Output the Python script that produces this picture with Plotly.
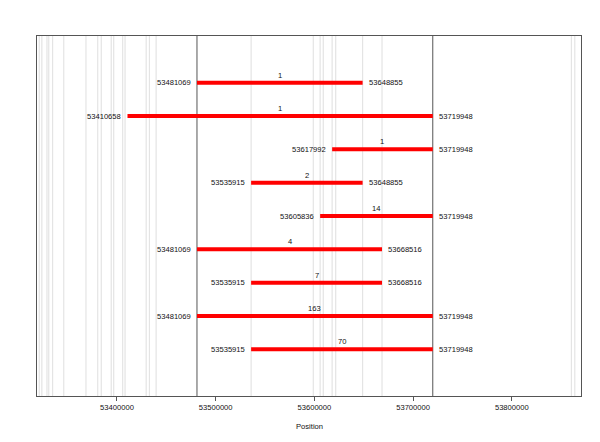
import plotly.graph_objects as go

# Data
starts = [53481069, 53410658, 53617992, 53535915, 53605836, 53481069, 53535915, 53481069, 53535915]
ends = [53648855, 53719948, 53719948, 53648855, 53719948, 53668516, 53668516, 53719948, 53719948]
counts = [1, 1, 1, 2, 14, 4, 7, 163, 70]
rows = [1, 2, 3, 4, 5, 6, 7, 8, 9]

# Background marker positions (light gray vertical lines)
marker_positions = [53321300, 53323900, 53329100, 53330900, 53334800, 53346100, 53368600,
                    53380500, 53384100, 53394200, 53396700, 53405800, 53408200, 53429600,
                    53432900, 53439700, 53535915, 53598900, 53605836, 53609000, 53617992,
                    53621600, 53648855, 53668516, 53860400, 53863800]
boundary_positions = [53481069, 53719948]

tick_vals = [53400000, 53500000, 53600000, 53700000, 53800000]
x_range = [53319000, 53870100]
y_range = [10.4, -0.4]

FONT = "Liberation Sans, Arial, Helvetica, sans-serif"
FS = 7.6

fig = go.Figure()

shapes = []
for p in marker_positions:
    shapes.append(dict(type="line", xref="x", yref="paper", x0=p, x1=p, y0=0, y1=1,
                       line=dict(color="#e4e4e4", width=1.2), layer="below"))
for p in boundary_positions:
    shapes.append(dict(type="line", xref="x", yref="paper", x0=p, x1=p, y0=0, y1=1,
                       line=dict(color="#555555", width=1), layer="below"))

xs, ys = [], []
for s, e, r in zip(starts, ends, rows):
    xs += [s, e, None]
    ys += [r, r, None]
fig.add_trace(go.Scatter(x=xs, y=ys, mode="lines", line=dict(color="#ff0000", width=4),
                         hoverinfo="skip", showlegend=False))

ann = []
for s, e, r, c in zip(starts, ends, rows, counts):
    ann.append(dict(x=s, y=r, xref="x", yref="y", text=str(s), showarrow=False,
                    xanchor="right", yanchor="middle", xshift=-4,
                    font=dict(family=FONT, size=FS, color="#111111")))
    ann.append(dict(x=e, y=r, xref="x", yref="y", text=str(e), showarrow=False,
                    xanchor="left", yanchor="middle", xshift=4,
                    font=dict(family=FONT, size=FS, color="#111111")))
    ann.append(dict(x=(s + e) / 2, y=r, xref="x", yref="y", text=str(c), showarrow=False,
                    xanchor="center", yanchor="bottom", yshift=1,
                    font=dict(family=FONT, size=FS, color="#111111")))
ann.append(dict(x=0.5, y=-31 / 360, xref="paper", yref="paper", text="Position",
                showarrow=False, xanchor="center", yanchor="middle",
                font=dict(family=FONT, size=FS, color="#111111")))

fig.update_layout(
    width=600, height=442,
    margin=dict(l=37, r=19, t=36, b=46, pad=0),
    paper_bgcolor="white", plot_bgcolor="white",
    shapes=shapes, annotations=ann,
    xaxis=dict(range=x_range, tickvals=tick_vals, ticktext=[str(v) for v in tick_vals],
               showgrid=False, zeroline=False, ticks="outside", ticklen=4,
               tickcolor="#555555", showline=True, linecolor="#555555", linewidth=1,
               mirror=True, tickfont=dict(family=FONT, size=FS, color="#111111")),
    yaxis=dict(range=y_range, showgrid=False, zeroline=False, showticklabels=False,
               ticks="", showline=True, linecolor="#555555", linewidth=1, mirror=True),
)

fig.write_html("out.html", config={"displayModeBar": False},
               post_script="document.body.style.margin='0';document.body.style.padding='0';")
